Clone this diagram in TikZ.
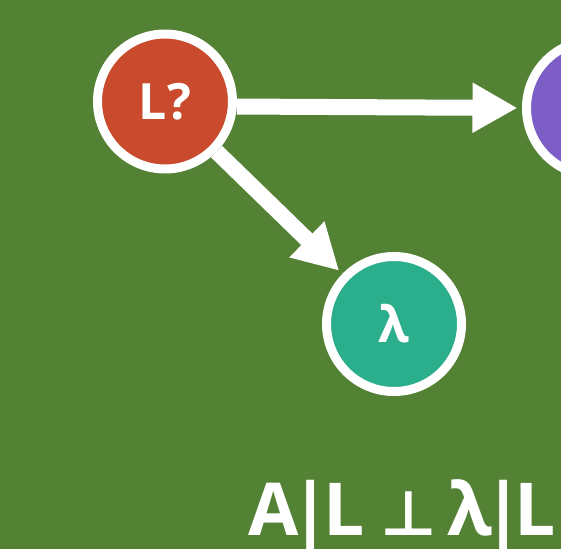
\documentclass[tikz,border=0pt]{standalone}
\usepackage{fontspec}
\setmainfont{Open Sans}
\newfontfamily\symfont{DejaVu Sans}
\usetikzlibrary{arrows.meta}
\definecolor{bggreen}{RGB}{84,130,53}
\definecolor{nodered}{RGB}{201,74,44}
\definecolor{nodepurple}{RGB}{124,94,198}
\definecolor{nodeteal}{RGB}{42,174,140}
% place a glyph centred at a given offset from the start of the line
\newcommand{\glyphat}[2]{\rlap{\hspace*{#1pt}\makebox[0pt][c]{#2}}}
\tikzset{
  var/.style={circle, draw=white, line width=9pt, minimum size=135pt, inner sep=0pt,
    text=white, font=\fontsize{50}{50}\selectfont\bfseries},
  edge/.style={white, line width=16pt,
    -{Triangle[length=45pt,width=47pt]}, shorten >=4.5pt},
}
\begin{document}
\begin{tikzpicture}[x=1pt,y=-1pt]
  \fill[bggreen] (0,0) rectangle (561,549);
  \useasboundingbox (0,0) rectangle (561,549);
  \node[var, fill=nodered] (L) at (165,101.5) {L?};
  \node[var, fill=nodepurple] (A) at (594,108) {};
  \node[var, fill=nodeteal] (lam) at (394,324) {λ};
  \draw[edge] (L.-4) -- (A.west);
  \draw[edge] (L) -- (lam);
  \node[anchor=base west, inner sep=0pt, text=white,
    font=\fontsize{73}{73}\selectfont\bfseries] (rel) at (247,535)
    {\glyphat{25.5}{A}\glyphat{63}{|}\glyphat{96}{L}%
     \glyphat{161}{\fontsize{62}{62}\selectfont\symfont ⊥}%
     \glyphat{222}{λ}\glyphat{256}{|}\glyphat{287}{L}};
\end{tikzpicture}
\end{document}
